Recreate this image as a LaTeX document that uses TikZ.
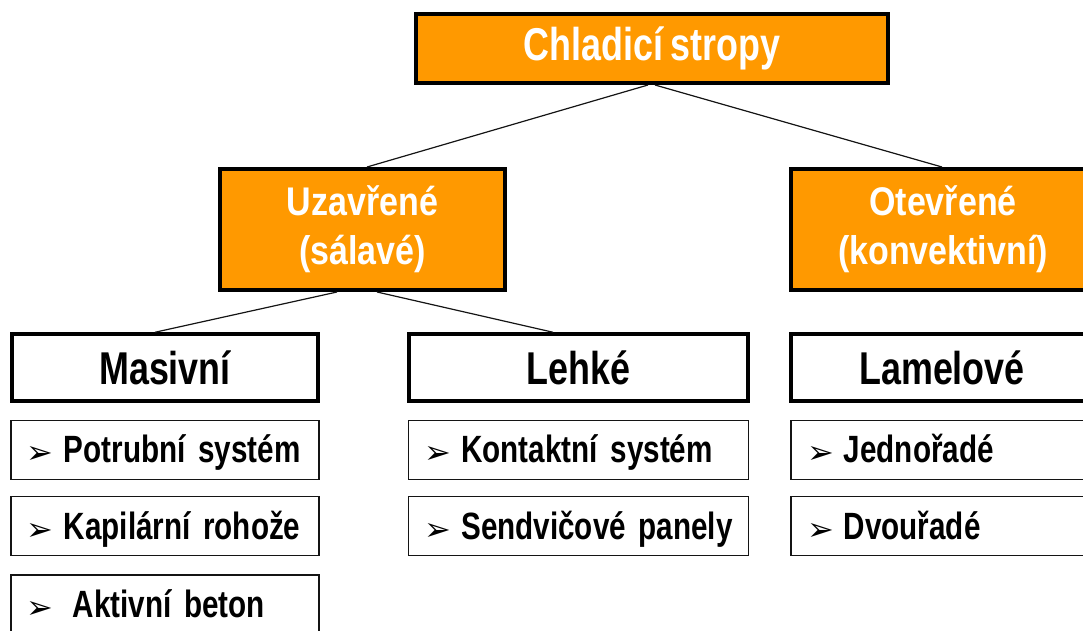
\documentclass[tikz,border=0pt]{standalone}
\usepackage{fontspec}
\usepackage{tikz}
\usetikzlibrary{positioning}
\setmainfont{Liberation Sans}
\newfontfamily\condfont{Liberation Sans}[FakeStretch=0.78, WordSpace=0.8]
\newfontfamily\midfont{Liberation Sans}[FakeStretch=0.85]
\newfontfamily\arrowfont{DejaVu Sans}
\definecolor{boxOrange}{RGB}{255, 153, 0}
\definecolor{lineColor}{RGB}{20, 20, 20}
\newcommand{\bul}{\raisebox{-1pt}[0pt][0pt]{\arrowfont\fontsize{32}{32}\selectfont ➢}\hspace{10pt}}
\tikzset{
    top_box/.style={
        draw=black,
        line width=4pt,
        fill=boxOrange,
        text=white,
        font=\condfont\bfseries\fontsize{46}{50}\selectfont,
        minimum height=69pt,
        inner sep=0pt
    },
    group_box/.style={
        draw=black,
        line width=4pt,
        fill=boxOrange,
        text=white,
        align=center,
        font=\midfont\bfseries\fontsize{40}{49}\selectfont,
        minimum height=121pt,
        inner sep=0pt
    },
    type_box/.style={
        draw=black,
        line width=3.5pt,
        fill=white,
        text=black,
        font=\condfont\bfseries\fontsize{46}{50}\selectfont,
        minimum height=67pt,
        inner sep=0pt
    },
    item_box/.style={
        draw=lineColor,
        line width=1.3pt,
        fill=white,
        text=black,
        align=left,
        font=\condfont\bfseries\fontsize{38}{40}\selectfont,
        minimum height=59pt,
        text height=30pt,
        text depth=4pt,
        inner xsep=16pt,
        inner ysep=0pt
    },
    tree_edge/.style={
        draw=lineColor,
        line width=1.2pt
    }
}

\begin{document}
\begin{tikzpicture}[x=1pt, y=-1pt, node distance=17pt]
    \useasboundingbox (0,0) rectangle (1083,631);
    \clip (0,0) rectangle (1083,631);

    \node[top_box, minimum width=472pt] (top) at (652,48.5) {Chladicí stropy};

    \node[group_box, minimum width=285pt] (uzav) at (362.5,229.5) {Uzavřené\\(sálavé)};
    \node[group_box, minimum width=304pt] (otev) at (943,229.5) {Otevřené\\(konvektivní)};

    \node[type_box, minimum width=306pt] (masiv) at (165,367.5) {Masivní};
    \node[type_box, minimum width=339pt] (lehke) at (578.5,367.5) {Lehké};
    \node[type_box, minimum width=302pt] (lamel) at (942,367.5) {Lamelové};

    % polozky pod jednotlivymi typy
    \node[item_box, text width=276pt, below=of masiv] (potrub) {\mbox{\bul Potrubní systém}};
    \node[item_box, text width=276pt, below=16pt of potrub] (kapil) {\mbox{\bul Kapilární rohože}};
    \node[item_box, text width=276pt, below=18pt of kapil] (aktiv) {\mbox{\bul\hspace{9pt}Aktivní beton}};

    \node[item_box, text width=308pt, below=of lehke] (kontakt) {\mbox{\bul Kontaktní systém}};
    \node[item_box, text width=308pt, below=16pt of kontakt] (sendv) {\mbox{\bul Sendvičové panely}};

    \node[item_box, text width=270pt, below=of lamel] (jednor) {\mbox{\bul Jednořadé}};
    \node[item_box, text width=270pt, below=16pt of jednor] (dvour) {\mbox{\bul Dvouřadé}};

    \draw[tree_edge] ([xshift=-4pt]top.south) -- ([xshift=4.5pt]uzav.north);
    \draw[tree_edge] ([xshift=3pt]top.south) -- ([xshift=-1pt]otev.north);
    \draw[tree_edge] ([xshift=-25.5pt]uzav.south) -- ([xshift=-10pt]masiv.north);
    \draw[tree_edge] ([xshift=14.5pt]uzav.south) -- ([xshift=-25.5pt]lehke.north);
\end{tikzpicture}
\end{document}
